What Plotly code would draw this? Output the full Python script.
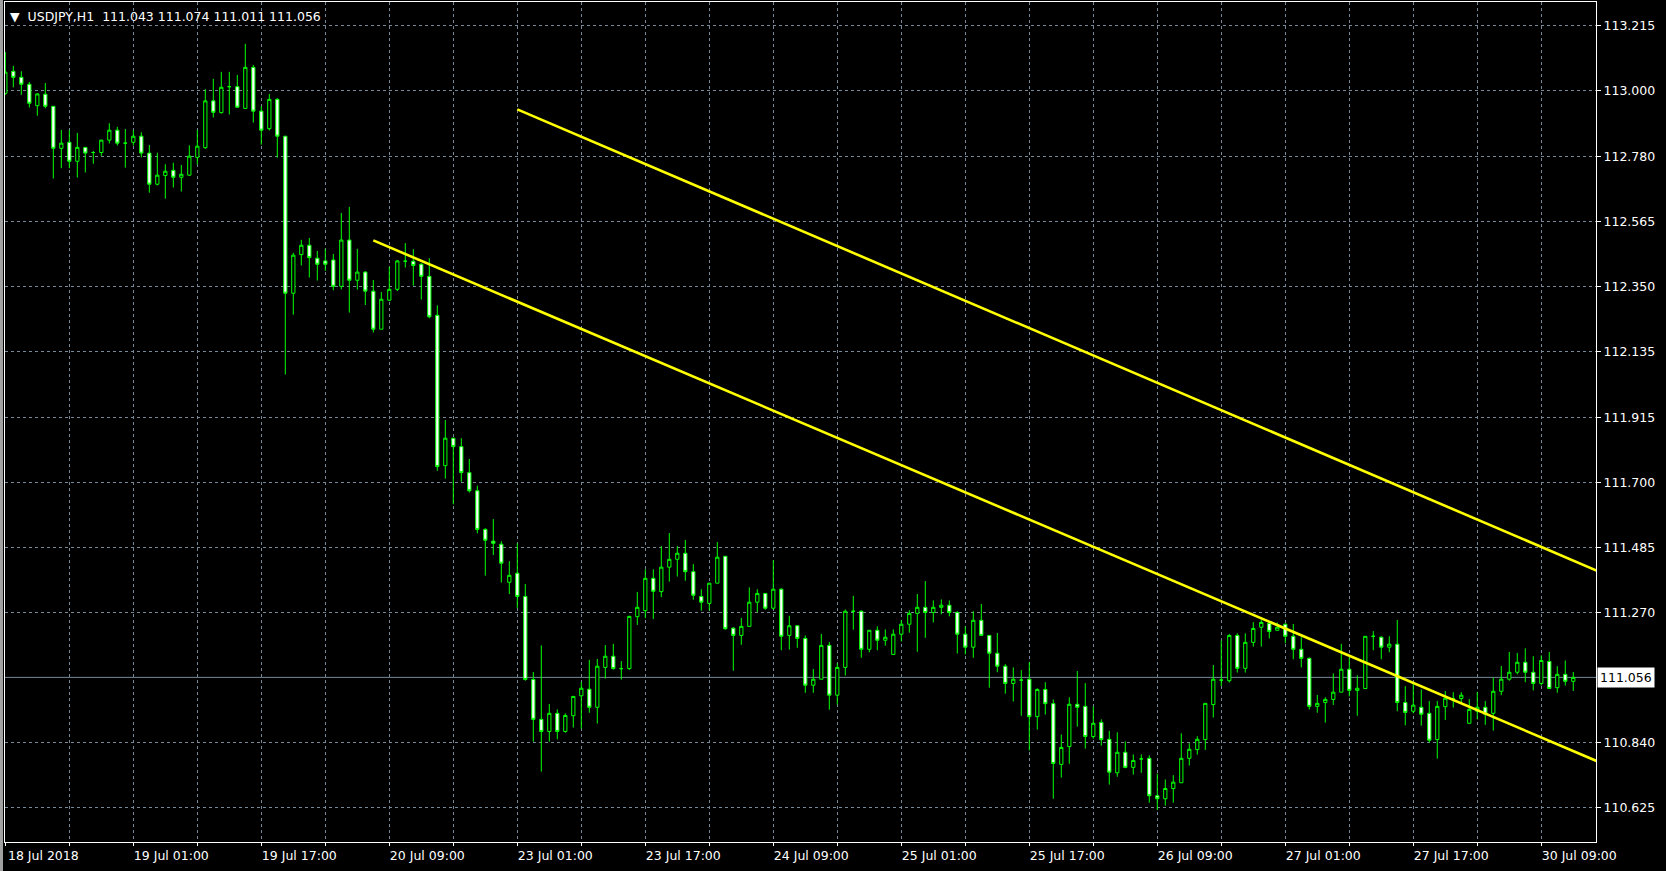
import plotly.graph_objects as go

# ---------------- data (USDJPY H1) ----------------
opens = [112.990, 113.063, 113.043, 113.020, 112.949, 112.987, 112.947, 112.808, 112.828, 112.765,
         112.811, 112.794, 112.794, 112.835, 112.868, 112.825, 112.828, 112.848, 112.792, 112.689,
         112.718, 112.735, 112.712, 112.719, 112.778, 112.810, 112.965, 112.926, 113.012, 113.012,
         112.940, 113.076, 112.931, 112.873, 112.970, 112.848, 112.328, 112.456, 112.487, 112.444,
         112.435, 112.438, 112.351, 112.504, 112.371, 112.398, 112.335, 112.209, 112.305, 112.341,
         112.434, 112.434, 112.424, 112.384, 112.255, 111.757, 111.848, 111.820, 111.734, 111.674,
         111.546, 111.507, 111.497, 111.371, 111.401, 111.324, 111.049, 110.917, 110.877, 110.937,
         110.877, 110.929, 110.995, 111.017, 110.957, 111.089, 111.126, 111.085, 111.085, 111.257,
         111.277, 111.384, 111.340, 111.421, 111.447, 111.467, 111.406, 111.324, 111.301, 111.368,
         111.457, 111.219, 111.195, 111.225, 111.305, 111.334, 111.285, 111.348, 111.195, 111.227,
         111.185, 111.030, 111.050, 111.162, 110.997, 111.089, 111.275, 111.275, 111.149, 111.212,
         111.179, 111.132, 111.199, 111.232, 111.268, 111.288, 111.271, 111.288, 111.295, 111.271,
         111.199, 111.156, 111.245, 111.195, 111.136, 111.093, 111.036, 111.047, 111.050, 110.926,
         111.016, 110.969, 110.768, 110.827, 110.967, 110.960, 110.860, 110.907, 110.851, 110.740,
         110.808, 110.758, 110.786, 110.788, 110.664, 110.654, 110.688, 110.707, 110.788, 110.817,
         110.850, 110.966, 111.047, 111.045, 111.195, 111.086, 111.172, 111.222, 111.235, 111.212,
         111.232, 111.192, 111.149, 111.119, 110.960, 110.973, 110.983, 111.007, 111.083, 111.013,
         111.019, 111.192, 111.189, 111.156, 111.166, 110.973, 110.944, 110.957, 110.937, 110.850,
         110.959, 110.986, 110.986, 110.904, 110.944, 110.957, 110.937, 111.010, 111.050, 111.073,
         111.106, 111.073, 111.036, 111.109, 111.022, 111.066, 111.043]

highs = [113.127, 113.081, 113.063, 113.028, 112.991, 113.024, 112.947, 112.869, 112.869, 112.859,
         112.811, 112.799, 112.836, 112.891, 112.879, 112.872, 112.868, 112.861, 112.819, 112.793,
         112.755, 112.760, 112.753, 112.818, 112.869, 113.004, 113.038, 113.061, 113.061, 113.051,
         113.154, 113.084, 112.948, 112.988, 112.974, 112.848, 112.462, 112.505, 112.511, 112.468,
         112.475, 112.458, 112.594, 112.614, 112.475, 112.401, 112.372, 112.332, 112.415, 112.438,
         112.494, 112.474, 112.427, 112.444, 112.288, 111.908, 111.848, 111.848, 111.779, 111.691,
         111.550, 111.580, 111.507, 111.441, 111.500, 111.365, 111.074, 111.162, 110.968, 110.950,
         110.937, 110.994, 111.041, 111.114, 111.117, 111.163, 111.167, 111.110, 111.260, 111.339,
         111.414, 111.414, 111.491, 111.534, 111.491, 111.511, 111.431, 111.348, 111.368, 111.504,
         111.457, 111.222, 111.253, 111.354, 111.348, 111.334, 111.444, 111.351, 111.260, 111.228,
         111.195, 111.084, 111.200, 111.173, 111.103, 111.281, 111.326, 111.278, 111.212, 111.225,
         111.215, 111.215, 111.246, 111.278, 111.332, 111.375, 111.311, 111.314, 111.311, 111.275,
         111.225, 111.275, 111.299, 111.195, 111.203, 111.100, 111.089, 111.080, 111.107, 111.020,
         111.040, 110.983, 110.867, 110.990, 111.077, 111.037, 110.960, 110.917, 110.879, 110.874,
         110.844, 110.801, 110.801, 110.798, 110.737, 110.718, 110.732, 110.871, 110.838, 110.861,
         110.970, 111.097, 111.178, 111.200, 111.202, 111.202, 111.239, 111.246, 111.238, 111.238,
         111.235, 111.233, 111.189, 111.122, 110.998, 110.990, 111.069, 111.167, 111.122, 111.063,
         111.192, 111.209, 111.192, 111.192, 111.246, 111.027, 111.040, 111.016, 110.978, 110.978,
         111.011, 111.007, 111.007, 110.984, 111.008, 110.978, 111.055, 111.094, 111.140, 111.137,
         111.152, 111.126, 111.129, 111.140, 111.093, 111.112, 111.074]

lows = [112.985, 113.010, 112.985, 112.943, 112.916, 112.940, 112.708, 112.742, 112.742, 112.711,
        112.728, 112.757, 112.783, 112.824, 112.817, 112.744, 112.817, 112.778, 112.661, 112.685,
        112.641, 112.678, 112.665, 112.717, 112.754, 112.806, 112.910, 112.923, 112.920, 112.943,
        112.940, 112.893, 112.820, 112.867, 112.777, 112.059, 112.257, 112.420, 112.380, 112.370,
        112.402, 112.338, 112.341, 112.264, 112.340, 112.289, 112.198, 112.209, 112.302, 112.335,
        112.413, 112.353, 112.307, 112.245, 111.740, 111.714, 111.629, 111.704, 111.668, 111.533,
        111.393, 111.461, 111.370, 111.332, 111.285, 111.045, 110.843, 110.744, 110.843, 110.851,
        110.873, 110.890, 110.886, 110.939, 110.903, 111.052, 111.082, 111.049, 111.081, 111.230,
        111.252, 111.249, 111.322, 111.373, 111.390, 111.376, 111.313, 111.277, 111.277, 111.368,
        111.214, 111.078, 111.164, 111.225, 111.272, 111.280, 111.281, 111.146, 111.148, 111.154,
        111.005, 111.005, 111.050, 110.949, 110.966, 111.062, 111.214, 111.121, 111.139, 111.146,
        111.161, 111.132, 111.175, 111.204, 111.141, 111.187, 111.238, 111.265, 111.258, 111.135,
        111.132, 111.121, 111.195, 111.022, 111.073, 111.002, 110.976, 110.929, 110.814, 110.883,
        110.933, 110.654, 110.724, 110.770, 110.893, 110.820, 110.853, 110.830, 110.701, 110.727,
        110.755, 110.734, 110.740, 110.641, 110.617, 110.631, 110.641, 110.707, 110.764, 110.800,
        110.816, 110.923, 111.027, 111.039, 111.072, 111.072, 111.158, 111.158, 111.185, 111.212,
        111.169, 111.116, 111.089, 110.950, 110.939, 110.906, 110.965, 111.007, 110.993, 110.929,
        111.019, 111.146, 111.116, 111.139, 110.944, 110.897, 110.937, 110.896, 110.840, 110.787,
        110.915, 110.956, 110.970, 110.904, 110.917, 110.899, 110.880, 110.997, 111.045, 111.066,
        111.040, 111.013, 111.029, 111.019, 111.005, 111.029, 111.011]

closes = [113.060, 113.043, 113.020, 112.957, 112.988, 112.947, 112.808, 112.825, 112.765, 112.811,
          112.792, 112.794, 112.835, 112.868, 112.825, 112.825, 112.848, 112.792, 112.689, 112.719,
          112.732, 112.712, 112.722, 112.782, 112.815, 112.965, 112.927, 113.010, 113.012, 112.944,
          113.076, 112.931, 112.868, 112.970, 112.848, 112.328, 112.454, 112.487, 112.446, 112.424,
          112.424, 112.351, 112.504, 112.371, 112.398, 112.335, 112.209, 112.308, 112.341, 112.435,
          112.434, 112.420, 112.384, 112.250, 111.754, 111.848, 111.820, 111.734, 111.674, 111.546,
          111.510, 111.500, 111.434, 111.394, 111.324, 111.049, 110.917, 110.877, 110.937, 110.877,
          110.930, 110.993, 111.020, 110.957, 111.093, 111.126, 111.085, 111.085, 111.258, 111.288,
          111.384, 111.341, 111.421, 111.447, 111.467, 111.406, 111.328, 111.305, 111.368, 111.454,
          111.217, 111.195, 111.225, 111.305, 111.334, 111.285, 111.348, 111.192, 111.227, 111.185,
          111.030, 111.050, 111.162, 110.997, 111.089, 111.275, 111.275, 111.149, 111.212, 111.179,
          111.189, 111.199, 111.232, 111.268, 111.288, 111.271, 111.288, 111.295, 111.271, 111.199,
          111.156, 111.245, 111.195, 111.136, 111.093, 111.036, 111.050, 111.047, 110.926, 111.016,
          110.969, 110.771, 110.824, 110.967, 110.957, 110.860, 110.904, 110.850, 110.742, 110.808,
          110.758, 110.781, 110.786, 110.664, 110.654, 110.688, 110.709, 110.788, 110.818, 110.851,
          110.970, 111.050, 111.047, 111.195, 111.086, 111.172, 111.218, 111.238, 111.208, 111.222,
          111.192, 111.149, 111.119, 110.960, 110.970, 110.983, 111.007, 111.083, 111.013, 111.020,
          111.192, 111.192, 111.156, 111.166, 110.973, 110.940, 110.964, 110.934, 110.848, 110.960,
          110.987, 110.986, 110.997, 110.950, 110.957, 110.934, 111.010, 111.050, 111.073, 111.106,
          111.073, 111.036, 111.112, 111.019, 111.066, 111.043, 111.056]

bar_index = list(range(len(opens)))

# time labels, one every 16 hourly bars
time_labels = ["18 Jul 2018", "19 Jul 01:00", "19 Jul 17:00", "20 Jul 09:00", "23 Jul 01:00",
               "23 Jul 17:00", "24 Jul 09:00", "25 Jul 01:00", "25 Jul 17:00", "26 Jul 09:00",
               "27 Jul 01:00", "27 Jul 17:00", "30 Jul 09:00"]
label_step = 16
grid_step = 8

# price scale labels
price_ticks = [113.215, 113.000, 112.780, 112.565, 112.350, 112.135, 111.915,
               111.700, 111.485, 111.270, 110.840, 110.625]
last_price = 111.056

# trend lines: two anchor points each (bar index, price); drawn as rays to the right
lower_line_bars = [46, 174]
lower_line_prices = [112.503, 111.060]
upper_line_bars = [64, 192]
upper_line_prices = [112.937, 111.488]

symbol_title = "USDJPY,H1"

# ---------------- figure ----------------
FONT = "DejaVu Sans, Verdana, sans-serif"
LIME = "#00ff00"
GRID = "#778899"

x_range = [-0.04, 198.84]
y_range = [110.5109, 113.2924]

fig = go.Figure()
fig.add_trace(go.Candlestick(
    x=bar_index, open=opens, high=highs, low=lows, close=closes,
    increasing=dict(fillcolor="black", line=dict(color=LIME, width=1)),
    decreasing=dict(fillcolor="white", line=dict(color=LIME, width=1)),
    whiskerwidth=0, hoverinfo="skip", showlegend=False,
))


def ray(bars, prices, x_end):
    slope = (prices[1] - prices[0]) / (bars[1] - bars[0])
    return bars[0], prices[0], x_end, prices[0] + slope * (x_end - bars[0])


for bars, prices in [(lower_line_bars, lower_line_prices), (upper_line_bars, upper_line_prices)]:
    x0, y0, x1, y1 = ray(bars, prices, x_range[1] + 5)
    fig.add_shape(type="line", xref="x", yref="y", x0=x0, y0=y0, x1=x1, y1=y1,
                  line=dict(color="#ffff00", width=2.6), layer="above")

# current price line
fig.add_shape(type="line", xref="paper", yref="y", x0=0, x1=1, y0=last_price, y1=last_price,
              line=dict(color=GRID, width=1), layer="below")

# current price box on the price scale
fig.add_annotation(xref="paper", yref="y", x=1, y=last_price, xanchor="left", yanchor="middle",
                   xshift=1, text=f"{last_price:.3f}", showarrow=False, bgcolor="white",
                   font=dict(family=FONT, size=12.5, color="black"), borderpad=2)

# title (symbol + OHLC of last bar)
title_text = "\u25BC\u00a0\u00a0{}\u00a0\u00a0{:.3f} {:.3f} {:.3f} {:.3f}".format(
    symbol_title, opens[-1], highs[-1], lows[-1], closes[-1])
fig.add_annotation(xref="paper", yref="paper", x=0, y=1, xanchor="left", yanchor="top",
                   xshift=3, yshift=-5, text=title_text, showarrow=False,
                   font=dict(family=FONT, size=12.5, color="white"))

# window border on the left
fig.add_shape(type="rect", xref="paper", yref="paper", x0=-5 / 1591, x1=-2 / 1591, y0=-0.1, y1=1.01,
              fillcolor="#a0a0a0", line=dict(width=0), layer="above")

grid_vals = list(range(0, int(x_range[1]) + 1, grid_step))
grid_text = [time_labels[v // label_step] if v % label_step == 0 and v // label_step < len(time_labels) else ""
             for v in grid_vals]

fig.update_layout(
    width=1666, height=871,
    margin=dict(l=5, r=70, t=2, b=29),
    paper_bgcolor="black", plot_bgcolor="black",
    showlegend=False,
    boxgap=0.42,
    font=dict(family=FONT, size=12.5, color="white"),
    xaxis=dict(range=x_range, rangeslider=dict(visible=False), type="linear",
               tickmode="array", tickvals=grid_vals, ticktext=grid_text,
               ticks="outside", ticklen=3, tickcolor="white", tickwidth=1,
               showline=True, linecolor="white", linewidth=1, mirror=True,
               showgrid=True, gridcolor=GRID, griddash="3px,3px", gridwidth=1,
               zeroline=False, ticklabelshift=38, ticklabelstandoff=-1,
               tickfont=dict(family=FONT, size=12.5, color="white"), fixedrange=True),
    yaxis=dict(range=y_range, side="right", tickmode="array", tickvals=price_ticks,
               ticktext=[f"{p:.3f}" for p in price_ticks],
               ticks="outside", ticklen=4, tickcolor="white", tickwidth=1,
               showline=True, linecolor="white", linewidth=1, mirror=True,
               showgrid=True, gridcolor=GRID, griddash="3px,3px", gridwidth=1,
               zeroline=False, tickfont=dict(family=FONT, size=12.5, color="white"),
               fixedrange=True),
)

fig.write_html("out.html", config={"displayModeBar": False},
               post_script="document.body.style.margin='0';document.body.style.overflow='hidden';")
